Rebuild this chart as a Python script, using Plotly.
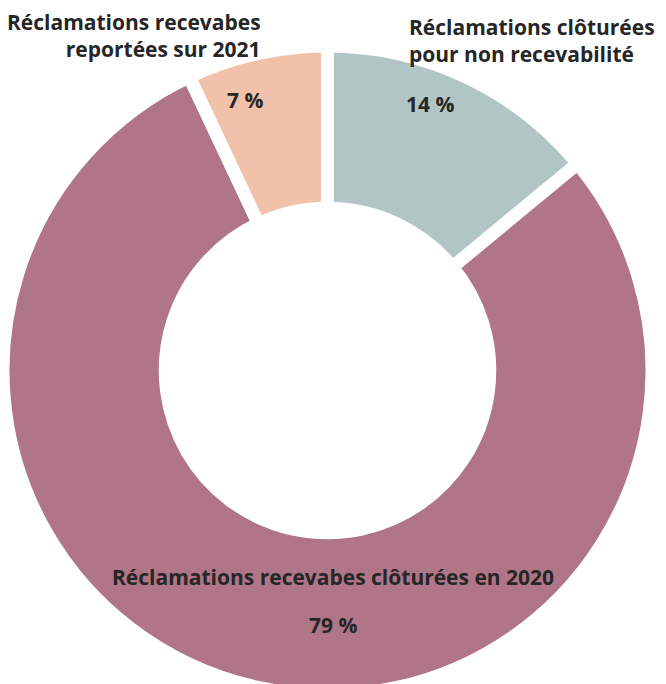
import plotly.graph_objects as go

labels = ["Réclamations clôturées<br>pour non recevabilité",
          "Réclamations recevabes clôturées en 2020",
          "Réclamations recevabes<br>reportées sur 2021"]
values = [14, 79, 7]
colors = ["#b1c5c4", "#b07586", "#f1c1aa"]

FONT = "Open Sans"
TXT = "#262626"

fig = go.Figure(go.Pie(
    labels=labels, values=values, sort=False, direction="clockwise", rotation=0,
    hole=0.5, textinfo="none", hoverinfo="label+percent",
    marker=dict(colors=colors, line=dict(color="white", width=13)),
    showlegend=False,
))

f = dict(family=FONT, size=21, color=TXT, weight=700)
ann = [
    # category labels
    dict(x=263, y=35, text=labels[2], xanchor="right", yanchor="middle", align="right"),
    dict(x=407, y=40, text=labels[0], xanchor="left", yanchor="middle", align="left"),
    dict(x=333, y=577, text=labels[1], xanchor="center", yanchor="middle"),
    # percentages
    dict(x=430, y=104, text=f"{values[0]} %", xanchor="center", yanchor="middle"),
    dict(x=333, y=625, text=f"{values[1]} %", xanchor="center", yanchor="middle"),
    dict(x=245, y=100, text=f"{values[2]} %", xanchor="center", yanchor="middle"),
]
annotations = []
for a in ann:
    a.update(xref="paper", yref="paper", showarrow=False, font=f)
    annotations.append(a)

W, H = 666, 700
ml, mr, mt, mb = 3, 14, 46, 5
pw, ph = W - ml - mr, H - mt - mb
for a in annotations:
    a["x"] = (a["x"] - ml) / pw
    a["y"] = 1 - (a["y"] - mt) / ph

fig.update_layout(
    width=W, height=H, autosize=False,
    margin=dict(l=ml, r=mr, t=mt, b=mb),
    paper_bgcolor="white", plot_bgcolor="white",
    annotations=annotations,
)
fig.write_html("out.html", config={"displayModeBar": False},
               post_script="document.body.style.margin='0';document.body.style.overflow='hidden';")
